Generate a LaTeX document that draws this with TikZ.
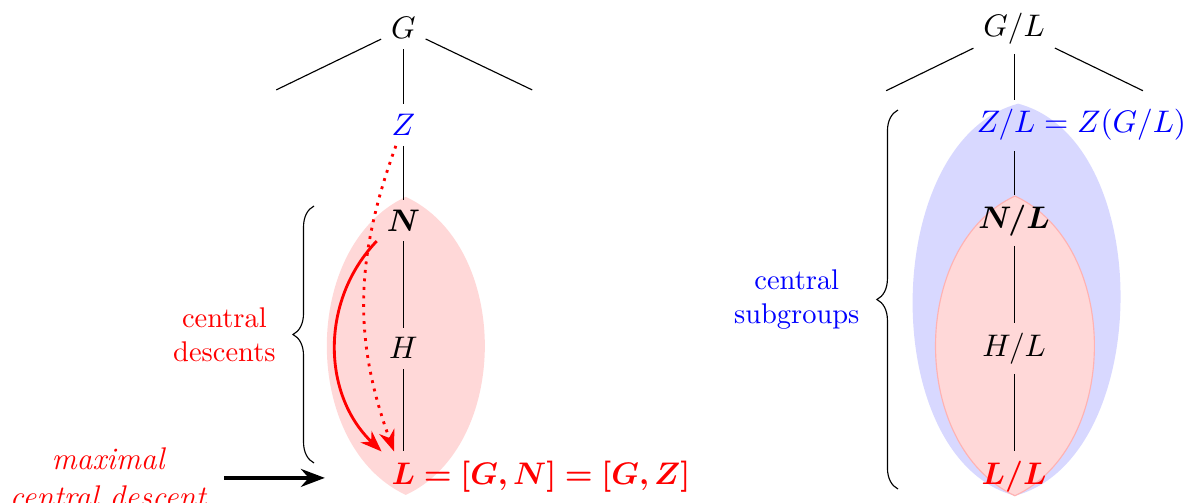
\documentclass[tikz,border=0pt]{standalone}
\usepackage{bm}
\usetikzlibrary{arrows.meta,positioning,decorations.pathreplacing}
\definecolor{lensred}{RGB}{255,216,216}
\definecolor{lensblue}{RGB}{216,216,255}
\tikzset{grp/.style={inner sep=3.33pt,font=\fontsize{11}{13.6}\selectfont}, brc/.style={decorate,decoration={brace,amplitude=7.4pt}}, lbl/.style={align=center,left=10pt}, redarr/.style={-{Stealth},line width=1pt,draw=red}, arr/.style={-{Stealth},very thick,draw=black}}

\begin{document}
\begin{tikzpicture}
\useasboundingbox (0,0) rectangle (14.654,-6.198);
\fill[lensblue](12.57,-1.28) to[out=-165,in=165,looseness=0.935] (12.53,-6.12) to[out=15,in=-15,looseness=0.935] cycle;
\fill[lensred](5.01,-2.43) to[out=-155,in=155] (5.01,-6.11) to[out=25,in=-25] cycle;
\filldraw[fill=lensred,draw=red!30](12.53,-2.42) to[out=-155,in=155] (12.53,-6.12) to[out=25,in=-25] cycle;
\node[grp](G) at (4.98,-0.35){$G$};\node[grp,text=blue](Z) at (4.98,-1.545){$Z$};\node[grp](N) at (4.98,-2.72){$\bm{N}$};\node[grp](H) at (4.98,-4.30){$H$};\node[grp,text=red](L) at (4.98,-5.89){$\bm{L}\rlap{$\bm{{}=[G,N]=[G,Z]}$}$};
\node[grp](GL) at (12.52,-0.35){$G/L$};\node[grp,text=blue](ZL) at (12.52,-1.545){$\kern-2.8pt Z/L\rlap{${}=Z(G/L)$}\kern2.8pt$};\node[grp](NL) at (12.52,-2.72){$\bm{N/L}$};\node[grp](HL) at (12.52,-4.30){$H/L$};\node[grp,text=red](LL) at (12.52,-5.89){$\bm{L/L}$};
\coordinate(gl) at (3.41,-1.11);\coordinate(gr) at (6.57,-1.11);\coordinate(gll) at (10.94,-1.12);\coordinate(glr) at (14.11,-1.12);
\foreach \x/\y in {G/Z,Z/N,N/H,H/L,GL/ZL,ZL/NL,NL/HL,HL/LL,G/gl,G/gr,GL/gll,GL/glr}{\draw(\x)--(\y);}
\draw[redarr,dotted](Z) to[out=-110,in=110] (L);
\draw[redarr](N.south west) to[bend right=45] (L.north west);
\draw[brc](3.877,-5.716)--(3.877,-2.543) node[lbl,midway,text=red](cdesc){central\\descents};
\draw[brc](11.086,-6.037)--(11.086,-1.358) node[lbl,midway,text=blue](csub){central\\subgroups};
\node[red,align=center,font=\fontsize{11}{13.6}\selectfont\itshape](maxdesc) at (1.333,-5.90){maximal\\central descent};
\coordinate(tipL) at (4.01,-5.90);
\draw[arr,shorten <=2.8pt](maxdesc)--(tipL);
\end{tikzpicture}
\end{document}
